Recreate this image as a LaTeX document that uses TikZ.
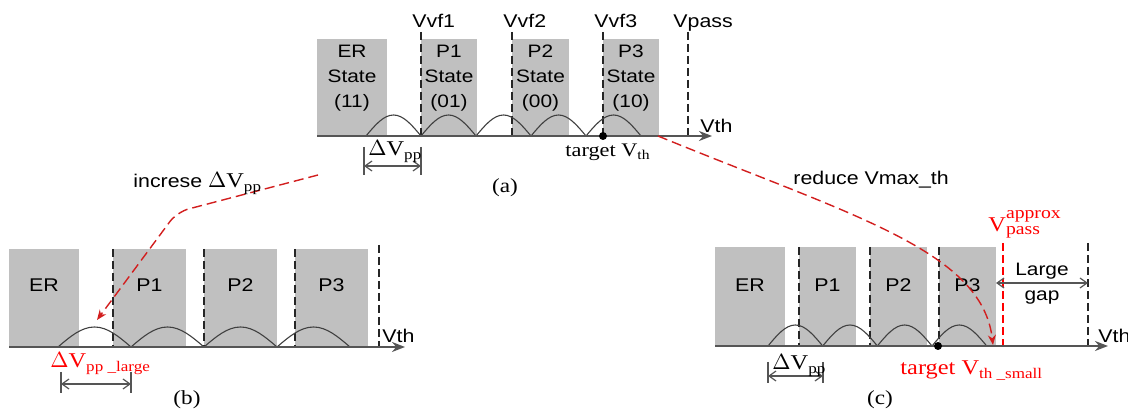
\documentclass[tikz,border=0pt]{standalone}
\usepackage{fontspec}
\setmainfont{Liberation Sans}[FakeStretch=1.16]
\newfontfamily\tmsfont{Liberation Serif}[FakeStretch=1.16]
\usetikzlibrary{arrows.meta}

\definecolor{stategray}{RGB}{192,192,192}
\definecolor{axisgray}{RGB}{85,85,85}
\definecolor{shiftred}{RGB}{210,30,30}

\tikzset{
  statebox/.style={fill=stategray},
  vaxis/.style={draw=axisgray, line width=1pt, -{Stealth[length=6.5pt,width=5pt]}},
  bump/.style={draw=black!75, line width=0.55pt},
  vline/.style={draw=black!85, line width=0.55pt, dash pattern=on 4pt off 2pt},
  dimline/.style={draw=axisgray, line width=0.6pt,
    {Straight Barb[length=3.5pt,width=5pt]}-{Straight Barb[length=3.5pt,width=5pt]}},
  dimtick/.style={draw=axisgray, line width=0.6pt},
  shiftarrow/.style={draw=shiftred, line width=0.7pt, dash pattern=on 5pt off 2.5pt,
    -{Stealth[length=5pt,width=4pt]}},
  lbl/.style={inner sep=0pt, font=\fontsize{9.2}{12.5}\selectfont},
  statelbl/.style={inner sep=0pt, align=center, font=\fontsize{9}{12.5}\selectfont},
  tmslbl/.style={inner sep=0pt, font=\fontsize{9.6}{12}\tmsfont},
  caplbl/.style={inner sep=0pt, font=\fontsize{10}{12}\tmsfont},
  redlbl/.style={inner sep=0pt, text=red, font=\fontsize{10.5}{12}\tmsfont},
}

\begin{document}
\begin{tikzpicture}[x=0.5pt,y=0.5pt]
  \useasboundingbox (0,0) rectangle (1128,416);

  % ---------------- (a) original distribution ----------------
  \fill[statebox] (317,280) rectangle (387,377);
  \fill[statebox] (421,280) rectangle (477,377);
  \fill[statebox] (512,280) rectangle (569,377);
  \fill[statebox] (603,280) rectangle (659,377);
  \node[statelbl, anchor=north] (erA) at (352,371) {ER\\State\\(11)};
  \node[statelbl, anchor=north] (pA1) at (449,371) {P1\\State\\(01)};
  \node[statelbl, anchor=north] (pA2) at (540.5,371) {P2\\State\\(00)};
  \node[statelbl, anchor=north] (pA3) at (631,371) {P3\\State\\(10)};

  % verify levels and pass voltage
  \foreach \x/\n in {421/1,512/2,603/3}{
    \draw[vline] (\x,384) -- (\x,280);
    \node[lbl, anchor=base west] (vvf\n) at (\x-9,388) {Vvf\n};
  }
  \draw[vline] (688,384) -- (688,280);
  \node[lbl, anchor=base west] (vpassA) at (673,388) {Vpass};

  % Vth distributions
  \foreach \s in {366,421,476,531,586}
    \draw[bump] (\s,280) sin (\s+27.5,301) cos (\s+55,280);
  \draw[vaxis] (317,280) -- (712,280);
  \node[lbl, anchor=base west] (vthA) at (700,283) {Vth};

  \fill (603,280) circle[radius=4];
  \node[tmslbl, anchor=base] (tgtA) at (608,259) {target V\textsubscript{th}};

  % program step
  \coordinate (dppA1) at (364,250);
  \coordinate (dppA2) at (421,250);
  \draw[dimtick] (364,269) -- (364,241);
  \draw[dimtick] (421,269) -- (421,241);
  \draw[dimline] (dppA1) -- (dppA2);
  \node[redlbl, text=black, anchor=base west] (dvA) at (368,260) {$\Delta$V\textsubscript{pp}};

  \node[caplbl] (capA) at (505,228) {(a)};

  % ---------------- (b) larger step ----------------
  \fill[statebox] (9,69) rectangle (79,167);
  \fill[statebox] (113,69) rectangle (186,167);
  \fill[statebox] (204,69) rectangle (277,167);
  \fill[statebox] (295,69) rectangle (368,167);
  \node[lbl, anchor=base] (erB) at (44,124) {ER};
  \node[lbl, anchor=base] (pB1) at (149.5,124) {P1};
  \node[lbl, anchor=base] (pB2) at (240.5,124) {P2};
  \node[lbl, anchor=base] (pB3) at (331.5,124) {P3};

  \foreach \x in {113,204,295}
    \draw[vline] (\x,167) -- (\x,69);
  \draw[vline] (379,171) -- (379,69);

  \foreach \s in {58,131,204,277}
    \draw[bump] (\s,69) sin (\s+36.5,89) cos (\s+73,69);
  \draw[vaxis] (9,69) -- (405,69);
  \node[lbl, anchor=base west] (vthB) at (382,73) {Vth};

  \coordinate (dppB1) at (61,32);
  \coordinate (dppB2) at (131,32);
  \draw[dimtick] (61,44) -- (61,23);
  \draw[dimtick] (131,44) -- (131,23);
  \draw[dimline] (dppB1) -- (dppB2);
  \node[redlbl, anchor=base west] (dvB) at (50,48) {$\Delta$V\textsubscript{pp \_large}};

  \node[caplbl] (capB) at (187,16) {(b)};

  % ---------------- (c) lower pass voltage ----------------
  \fill[statebox] (715,70) rectangle (785,169);
  \fill[statebox] (799,70) rectangle (856,169);
  \fill[statebox] (870,70) rectangle (927,169);
  \fill[statebox] (939,70) rectangle (996,169);
  \node[lbl, anchor=base] (erC) at (750,124) {ER};
  \node[lbl, anchor=base] (pC1) at (827.5,124) {P1};
  \node[lbl, anchor=base] (pC2) at (898.5,124) {P2};
  \node[lbl, anchor=base] (pC3) at (967.5,124) {P3};

  \foreach \x in {799,870,939}
    \draw[vline] (\x,169) -- (\x,70);
  \draw[vline, draw=red] (1003,173) -- (1003,70);
  \draw[vline] (1088,173) -- (1088,70);
  \node[redlbl, anchor=base west] (vapx) at (988,184)
    {V\rlap{\raisebox{6.5pt}{\fontsize{8.5}{9}\selectfont approx}}\raisebox{-1.5pt}{\fontsize{8.5}{9}\selectfont pass}};

  \foreach \s in {768,822.7,877.3,932}
    \draw[bump] (\s,70) sin (\s+27.3,91) cos (\s+54.7,70);
  \draw[vaxis] (715,70) -- (1108,70);
  \node[lbl, anchor=base west] (vthC) at (1098,73) {Vth};

  \fill (938,70) circle[radius=4];
  \node[redlbl, anchor=base west] (tgtC) at (900,41) {target V\textsubscript{th \_small}};

  \coordinate (dppC1) at (768,40);
  \coordinate (dppC2) at (823,40);
  \draw[dimtick] (768,54) -- (768,33);
  \draw[dimtick] (823,54) -- (823,33);
  \draw[dimline] (dppC1) -- (dppC2);
  \node[redlbl, text=black, anchor=base west] (dvC) at (772,46) {$\Delta$V\textsubscript{pp}};

  % gap up to the original pass voltage
  \coordinate (gapL) at (996,133);
  \coordinate (gapR) at (1088,133);
  \draw[dimline] (gapL) -- (gapR);
  \node[statelbl, anchor=north] (gap) at (1042,153) {Large\\gap};

  \node[caplbl] (capC) at (880,16) {(c)};

  % ---------------- transitions ----------------
  \coordinate (incStart) at (318,241);
  \coordinate (incBend) at (177,204);
  \coordinate (incEnd) at (97,96);
  \draw[shiftarrow, rounded corners=6pt] (incStart) -- (incBend) -- (incEnd);
  \node[lbl, anchor=base west] (incLbl) at (133,228)
    {increse {\fontsize{10.5}{12}\tmsfont$\Delta$V\textsubscript{pp}}};

  \coordinate (redStart) at (658,280);
  \coordinate (redEnd) at (993,71);
  \draw[shiftarrow] (redStart) .. controls (850,201) and (982,166) .. (redEnd);
  \node[lbl, anchor=base west] (redLbl) at (793,231) {reduce Vmax\_th};
\end{tikzpicture}
\end{document}
